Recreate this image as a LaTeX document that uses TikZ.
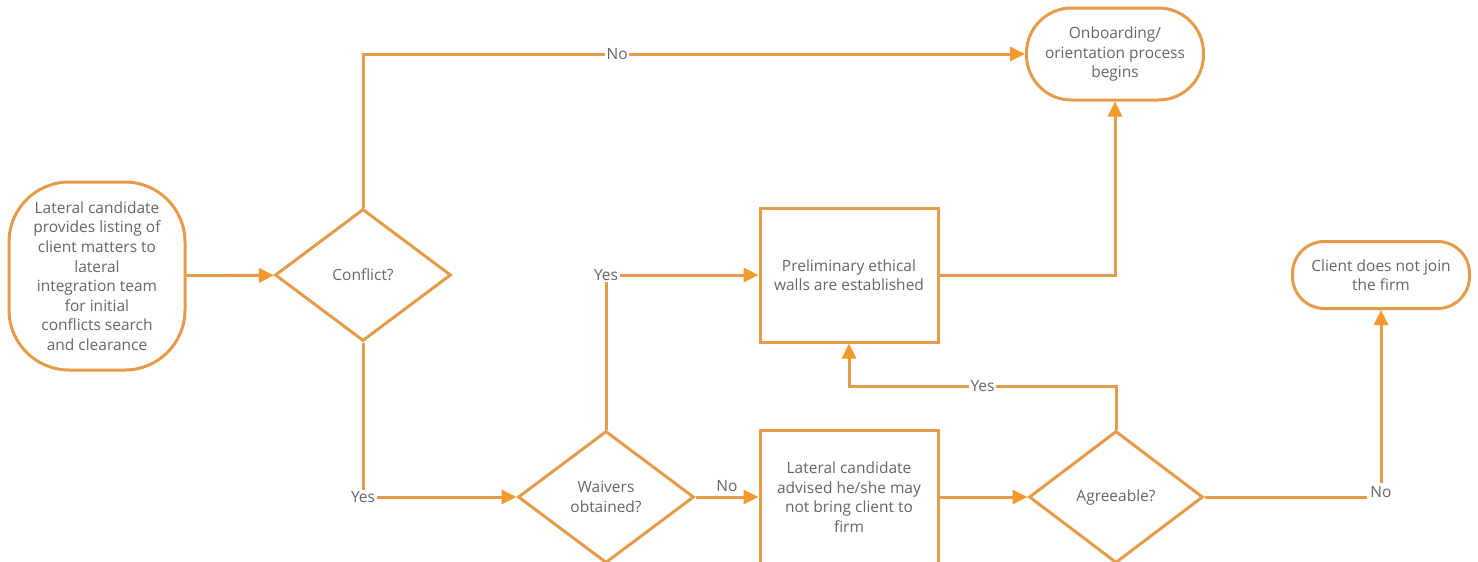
\documentclass[tikz,border=0pt]{standalone}
\usepackage{fontspec}
\setmainfont{Open Sans}
\usetikzlibrary{shapes.geometric,arrows.meta}
\definecolor{ln}{HTML}{E49B4A}
\definecolor{ah}{HTML}{F39A2C}
\definecolor{tx}{HTML}{666666}
\begin{document}
\begin{tikzpicture}[x=1pt,y=-1pt,
  every node/.style={text=tx, font=\fontsize{15.5}{19.6}\selectfont},
  box/.style={draw=ln, line width=3pt, rectangle, align=center, inner sep=0},
  dia/.style={draw=ln, line width=3pt, diamond, align=center, inner sep=0, minimum width=176pt, minimum height=132pt},
  conn/.style={draw=ln, line width=3pt},
  arr/.style={conn, -{Triangle[length=15pt,width=14pt,color=ah,fill=ah]}},
  lbl/.style={fill=white, inner sep=1.5pt}
]
\useasboundingbox (0,0) rectangle (1478,562);
\clip (0,0) rectangle (1478,562);
\fill[white] (0,0) rectangle (1478,562);

\node[box, rounded corners=60pt, minimum width=176pt, minimum height=188pt] (start) at (97,276)
  {Lateral candidate\\provides listing of\\client matters to\\lateral\\integration team\\for initial\\conflicts search\\and clearance};
\node[dia] (conf) at (363,275) {Conflict?};
\node[box, rounded corners=45pt, minimum width=177pt, minimum height=92pt] (onb) at (1115,54)
  {Onboarding/\\orientation process\\begins};
\node[dia] (wai) at (606,497) {Waivers\\obtained?};
\node[box, minimum width=178pt, minimum height=134pt] (pre) at (849,275)
  {Preliminary ethical\\walls are established};
\node[box, minimum width=178pt, minimum height=134pt] (adv) at (849,497)
  {Lateral candidate\\advised he/she may\\not bring client to\\firm};
\node[dia, minimum width=174pt] (agr) at (1116,497) {Agreeable?};
\node[box, rounded corners=32pt, minimum width=177pt, minimum height=67pt] (cli) at (1381,275)
  {Client does not join\\the firm};

\draw[arr] (start) -- (conf);
\draw[arr] (conf.north) |- node[lbl, pos=0.692] {No} (onb.west);
\draw[arr] (conf.south) |- node[lbl, pos=0.5] {Yes} (wai.west);
\draw[arr] (wai.north) |- node[lbl, pos=0.5] {Yes} (pre.west);
\draw[arr] (wai.east) -- node[above=1pt] {No} (adv.west);
\draw[arr] (pre.east) -| (onb.south);
\draw[arr] (adv.east) -- (agr.west);
\draw[arr] (agr.north) -- (agr.north |- 0,386) -- node[lbl] {Yes} (pre.south |- 0,386) -- (pre.south);
\draw[arr] (agr.east) -| node[lbl, pos=0.5, yshift=5pt, inner sep=3pt] {No} (cli.south);
\end{tikzpicture}
\end{document}
